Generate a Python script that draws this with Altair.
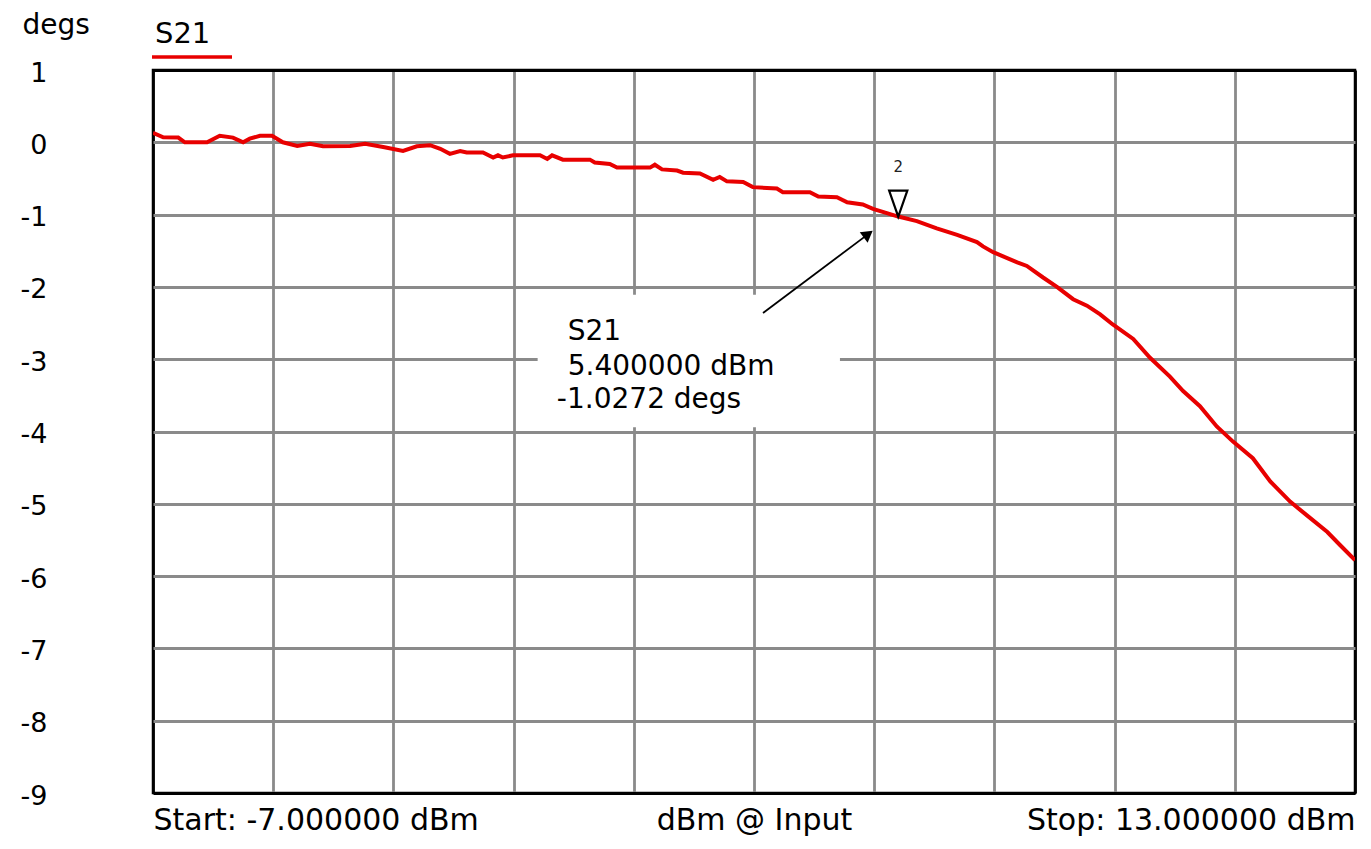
import altair as alt
import pandas as pd

# ---- data ----
x_dbm = [-7.00, -6.83, -6.58, -6.47, -6.10, -5.89, -5.67, -5.50, -5.39, -5.22,
         -5.02, -4.84, -4.60, -4.39, -4.17, -3.72, -3.47, -3.17, -2.84, -2.61,
         -2.39, -2.22, -2.06, -1.89, -1.78, -1.51, -1.34, -1.26, -1.18, -1.01,
         -0.56, -0.44, -0.36, -0.18, 0.27, 0.35, 0.60, 0.72, 1.27, 1.35,
         1.47, 1.72, 1.82, 2.10, 2.32, 2.43, 2.55, 2.82, 2.98, 3.38,
         3.48, 3.93, 4.07, 4.38, 4.55, 4.81, 4.98, 5.21, 5.40, 5.71,
         6.04, 6.38, 6.71, 6.81, 6.98, 7.38, 7.54, 7.81, 8.04, 8.31,
         8.54, 8.76, 8.97, 9.31, 9.59, 9.92, 10.14, 10.42, 10.70, 10.97,
         11.30, 11.59, 11.92, 12.20, 12.54, 12.75, 13.00]
phase_deg = [0.13, 0.07, 0.065, 0.0, 0.0, 0.09, 0.065, 0.0, 0.05, 0.09,
             0.09, 0.0, -0.05, -0.02, -0.055, -0.05, -0.02, -0.065, -0.12, -0.055,
             -0.04, -0.09, -0.16, -0.12, -0.14, -0.14, -0.21, -0.18, -0.21, -0.18,
             -0.18, -0.23, -0.18, -0.24, -0.24, -0.28, -0.30, -0.35, -0.35, -0.31,
             -0.375, -0.39, -0.42, -0.43, -0.52, -0.48, -0.54, -0.55, -0.62, -0.64,
             -0.69, -0.69, -0.75, -0.76, -0.83, -0.86, -0.92, -0.98, -1.0272, -1.09,
             -1.19, -1.28, -1.38, -1.44, -1.52, -1.66, -1.71, -1.87, -2.0, -2.17,
             -2.26, -2.38, -2.52, -2.72, -2.98, -3.24, -3.44, -3.65, -3.93, -4.14,
             -4.37, -4.69, -4.97, -5.16, -5.39, -5.57, -5.78]

series_name = "S21"
y_title = "degs"
y_ticks = [1, 0, -1, -2, -3, -4, -5, -6, -7, -8, -9]
x_grid = [-7, -5, -3, -1, 1, 3, 5, 7, 9, 11, 13]
x_label_pos = [-7, 3, 13]
x_label_txt = ["Start: -7.000000 dBm", "dBm @ Input", "Stop: 13.000000 dBm"]

marker_x = [5.4]
marker_y = [-1.0272]
marker_id = ["2"]
readout_lines = ["S21", "5.400000 dBm", "-1.0272 degs"]
readout_x = [-0.10, -0.10, -0.28]
readout_y = [-2.73, -3.22, -3.675]
box_x = [-0.6]
box_x2 = [4.43]
box_y = [-2.11]
box_y2 = [-3.94]
arrow_x = [3.15]
arrow_y = [-2.36]
arrow_x2 = [4.90]
arrow_y2 = [-1.27]

W, H = 1202, 723
FONT = "DejaVu Sans"

df = pd.DataFrame({"x": x_dbm, "y": phase_deg})

lab_expr = " : ".join(
    f"datum.value == {p} ? '{t}'" for p, t in zip(x_label_pos, x_label_txt)
) + " : ''"

xs = alt.Scale(domain=[-7, 13], nice=False, zero=False)
ys = alt.Scale(domain=[-9, 1], nice=False, zero=False)

edge_test_x = "datum.value == -7 || datum.value == 13"
edge_test_y = "datum.value == -9 || datum.value == 1"

line = alt.Chart(df).mark_line(color="#e80000", strokeWidth=4, clip=True).encode(
    x=alt.X("x:Q", scale=xs, axis=alt.Axis(
        values=x_grid, labelExpr=lab_expr, labelFlush=True, labelOverlap=False,
        labelLimit=0, labelBaseline="top",
        labelFont=FONT, labelFontSize=30, labelColor="black", labelPadding=12,
        ticks=False, domain=False, title=None,
        grid=True, gridColor={"condition": {"test": edge_test_x, "value": "black"}, "value": "#8a8a8a"},
        gridWidth=2.8)),
    y=alt.Y("y:Q", scale=ys, axis=alt.Axis(
        values=y_ticks, labelExpr="'' + datum.value", labelFont=FONT, labelFontSize=27,
        labelColor="black",
        labelPadding=106, labelBaseline="middle", labelOffset=3, labelLimit=0,
        ticks=False, domain=False,
        title=y_title, titleAngle=0, titleAlign="left", titleBaseline="alphabetic",
        titleX=-131, titleY=-37, titleFont=FONT, titleFontSize=28,
        titleFontWeight="normal", titleColor="black",
        grid=True, gridColor={"condition": {"test": edge_test_y, "value": "black"}, "value": "#8a8a8a"},
        gridWidth=2.8)),
)

# legend-like series label above the plot
leg_df = pd.DataFrame({"t": [series_name]})
leg_text = alt.Chart(leg_df).mark_text(
    font=FONT, fontSize=29, align="left", baseline="alphabetic", color="black"
).encode(text="t:N", x=alt.value(2), y=alt.value(-27))
leg_rule = alt.Chart(leg_df).mark_rule(color="#e80000", strokeWidth=3.5).encode(
    x=alt.value(-1), x2=alt.value(79), y=alt.value(-13))

box_df = pd.DataFrame({"x": box_x, "x2": box_x2, "y": box_y, "y2": box_y2})
box = alt.Chart(box_df).mark_rect(fill="white").encode(
    x=alt.X("x:Q", scale=xs), x2="x2", y=alt.Y("y:Q", scale=ys), y2="y2")

ro_df = pd.DataFrame({"t": readout_lines, "x": readout_x, "y": readout_y})
readout = alt.Chart(ro_df).mark_text(
    font=FONT, fontSize=28, align="left", baseline="alphabetic", color="black"
).encode(x=alt.X("x:Q", scale=xs), y=alt.Y("y:Q", scale=ys), text="t:N")

arr_df = pd.DataFrame({"x": arrow_x, "y": arrow_y, "x2": arrow_x2, "y2": arrow_y2})
arrow = alt.Chart(arr_df).mark_rule(color="black", strokeWidth=1.8).encode(
    x=alt.X("x:Q", scale=xs), y=alt.Y("y:Q", scale=ys), x2="x2", y2="y2")
head = alt.Chart(arr_df).mark_point(
    shape="triangle-up", filled=True, color="black", size=170, angle=53, opacity=1
).encode(x=alt.X("x2:Q", scale=xs), y=alt.Y("y2:Q", scale=ys))

mk_df = pd.DataFrame({"x": marker_x, "y": marker_y, "id": marker_id})
marker = alt.Chart(mk_df).mark_point(
    shape="M -0.35 -1 L 0.35 -1 L 0 0 Z", size=2704, filled=False,
    stroke="black", strokeWidth=2.2, fill="white", fillOpacity=1, opacity=1
).encode(x=alt.X("x:Q", scale=xs), y=alt.Y("y:Q", scale=ys))
marker_lbl = alt.Chart(mk_df).mark_text(
    font=FONT, fontSize=15, align="center", baseline="alphabetic", dy=-45, color="#222222"
).encode(x=alt.X("x:Q", scale=xs), y=alt.Y("y:Q", scale=ys), text="id:N")

chart = alt.layer(
    box, line, leg_text, leg_rule, readout, arrow, head, marker, marker_lbl
).properties(
    width=W, height=H,
    autosize=alt.AutoSizeParams(type="none"),
    padding={"left": 145, "top": 62, "right": 8, "bottom": 48},
    background="white",
).configure_view(stroke="black", strokeWidth=2.5)

chart.save("out.html", embed_options={"renderer": "svg", "actions": False})
